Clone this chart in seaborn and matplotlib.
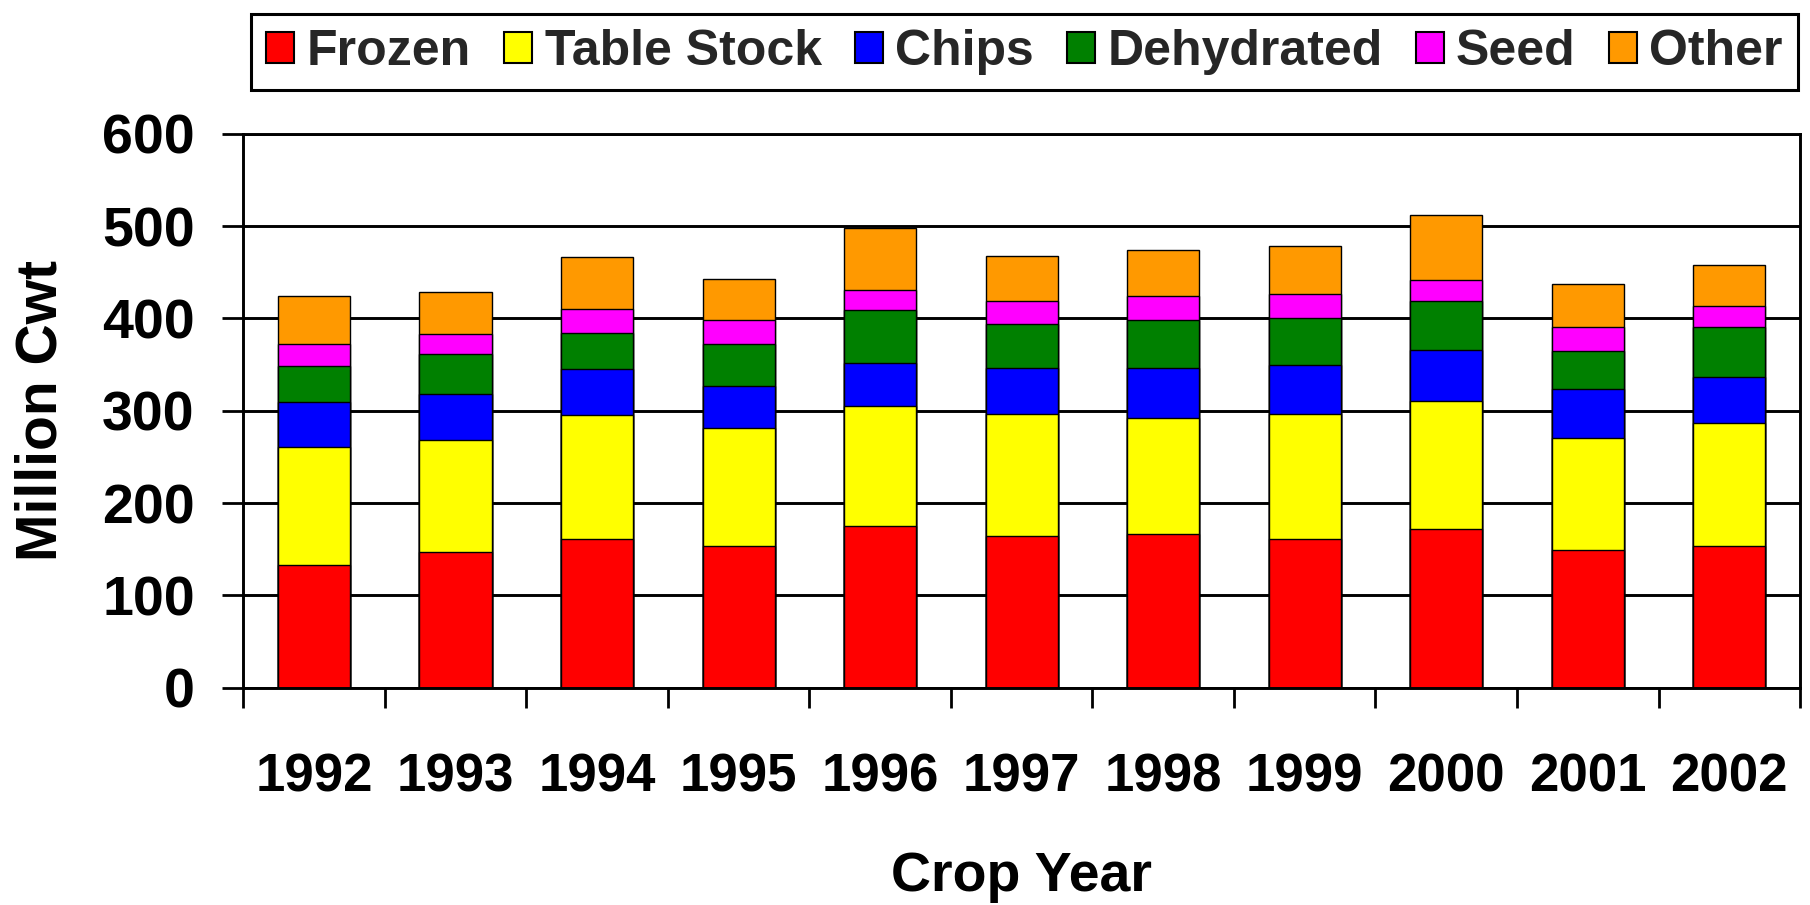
import matplotlib.pyplot as plt
import numpy as np
import pandas as pd
import seaborn as sns
from matplotlib.patches import Patch

# values (million cwt)
years = ['1992', '1993', '1994', '1995', '1996', '1997', '1998', '1999', '2000', '2001', '2002']
uses = ['Frozen', 'Table Stock', 'Chips', 'Dehydrated', 'Seed', 'Other']
frozen = [133, 147, 161, 153, 175, 164, 166, 161, 172, 149, 153]
table_stock = [128, 121, 134, 128, 130, 132, 126, 135, 139, 121, 134]
chips = [48, 50, 50, 46, 47, 50, 54, 54, 55, 54, 50]
dehydrated = [39, 43, 39, 45, 57, 48, 52, 50, 53, 41, 54]
seed = [24, 22, 26, 26, 22, 25, 26, 26, 22, 26, 22]
other = [52, 45, 56, 45, 67, 48, 50, 52, 71, 46, 45]
colors = ['#FF0000', '#FFFF00', '#0000FF', '#008000', '#FF00FF', '#FF9900']

series = [frozen, table_stock, chips, dehydrated, seed, other]
df = pd.DataFrame({
    'Year': np.tile(years, len(uses)),
    'Use': np.repeat(uses, len(years)),
    'Value': np.concatenate(series),
})
df['Use'] = pd.Categorical(df['Use'], categories=uses, ordered=True)
df = df.sort_values(['Year', 'Use'])
df['Top'] = df.groupby('Year')['Value'].cumsum()

sns.set_theme(style='white')
plt.rcParams['font.family'] = ['Liberation Sans', 'DejaVu Sans']
plt.rcParams['font.weight'] = 'bold'
plt.rcParams['axes.labelweight'] = 'bold'

fig, ax = plt.subplots(figsize=(18.1, 9.05), dpi=100)
fig.subplots_adjust(left=0.1344, right=0.9945, bottom=0.2401, top=0.8523)

# stacked bars: draw cumulative totals from the top segment down
for use, color in reversed(list(zip(uses, colors))):
    sub = df[df['Use'] == use]
    sns.barplot(data=sub, x='Year', y='Top', order=years, color=color,
                saturation=1, edgecolor='black', linewidth=1.0, width=0.51,
                errorbar=None, ax=ax)

ax.set_xlim(-0.5, len(years) - 0.5)
ax.set_ylim(0, 600)
ax.set_yticks(range(0, 601, 100))
ax.set_axisbelow(True)
ax.yaxis.grid(True, color='black', linewidth=2.1)
ax.xaxis.grid(False)
for side in ['left', 'right', 'top', 'bottom']:
    ax.spines[side].set_visible(True)
    ax.spines[side].set_color('black')
    ax.spines[side].set_linewidth(2.1)

ax.tick_params(axis='y', left=True, direction='out', length=15, width=2,
               pad=20, labelsize=40, colors='black')
ax.set_xticks(np.arange(-0.5, len(years), 1), minor=True)
ax.tick_params(axis='x', which='minor', bottom=True, direction='out',
               length=14.5, width=2, color='black')
ax.tick_params(axis='x', which='major', bottom=False, length=0, pad=47,
               labelsize=38, colors='black')

ax.set_xlabel('Crop Year', fontsize=40, color='black')
ax.set_ylabel('Million Cwt', fontsize=41, color='black')
ax.xaxis.set_label_coords(0.5, -0.295)
ax.yaxis.set_label_coords(-0.112, 0.5)

handles = [Patch(facecolor=c, edgecolor='black', linewidth=1.5) for c in colors]
leg = fig.legend(handles, uses, loc='center', bbox_to_anchor=(0.566, 0.9425),
                 ncol=6, frameon=True, fancybox=False, edgecolor='black',
                 framealpha=1, fontsize=36, handlelength=0.56, handleheight=0.6,
                 handletextpad=0.25, columnspacing=0.66, borderpad=0.3)
leg.get_frame().set_linewidth(2.2)

plt.savefig('out.png', dpi=100)
plt.close()
